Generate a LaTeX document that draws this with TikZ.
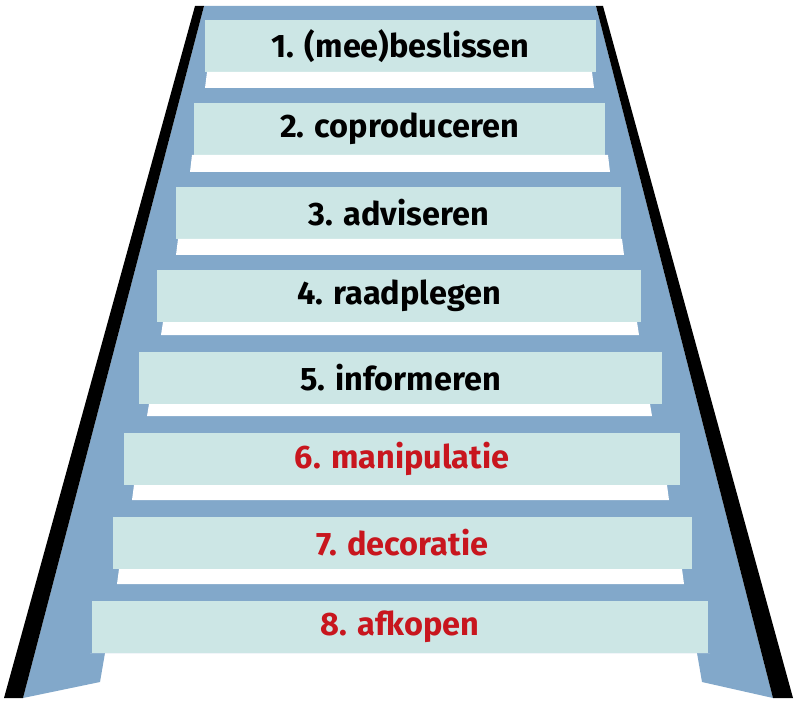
\documentclass[tikz,border=0pt]{standalone}
\usepackage{fontspec}
\setmainfont{Fira Sans}
\usetikzlibrary{positioning}
\definecolor{mystair}{RGB}{130,168,202}
\definecolor{mystep}{RGB}{204,230,229}
\definecolor{myred}{RGB}{200,22,30}

\begin{document}
\begin{tikzpicture}[x=1pt, y=-1pt,
    stepbox/.style={fill=mystep, inner sep=0pt, minimum height=52pt, font=\fontsize{32.5}{33}\selectfont\bfseries}]
    \useasboundingbox (0,0) rectangle (800,711);

    % Stair body with the two legs
    \fill[mystair] (204,6) -- (596,6) -- (773,698) -- (702,682) -- (697,653) -- (105,653) -- (100,682) -- (23,698) -- cycle;

    % Black side rails
    \fill[black] (195,6) -- (204,6) -- (23,698) -- (4,698) -- cycle;
    \fill[black] (596,6) -- (603,6) -- (793,698) -- (773,698) -- cycle;

    % Steps: box with label, white tread strip below
    \foreach \i/\l/\r/\t/\sl/\sr/\sb/\col/\txt in {
        1/205/596/20/207/592/88/black/{1. (mee)beslissen},
        2/194/605/103/192/608/172/black/{2. coproduceren},
        3/176/621/187/178/622/255/black/{3. adviseren},
        4/157/641/270/163/637/335/black/{4. raadplegen},
        5/139/662/352/149/650/416/black/{5. informeren},
        6/124/680/433/134/667/500/myred/{6. manipulatie},
        7/113/692/517/119/682/584/myred/{7. decoratie},
        8/92/708/601/92/708/653/myred/{8. afkopen}} {
        \node[stepbox, text=\col, minimum width={(\r-\l)*1pt}] (step\i) at ({(\l+\r)/2},{\t+26}) {\txt};
        \fill[white] (\sl,{\t+52}) -- (\sr,{\t+52}) -- ({\sr+2},\sb) -- ({\sl-2},\sb) -- cycle;
    }
\end{tikzpicture}
\end{document}
